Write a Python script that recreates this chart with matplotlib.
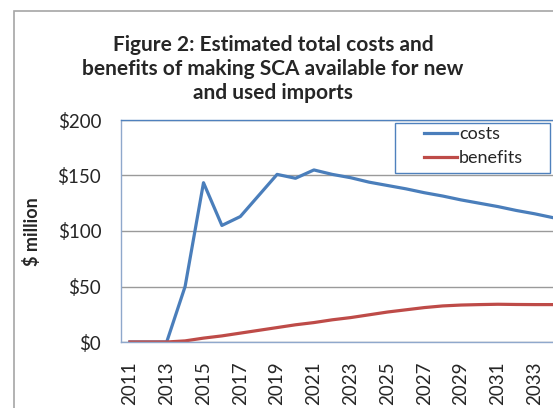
import matplotlib
matplotlib.use("Agg")
import matplotlib.pyplot as plt
from matplotlib.patches import Rectangle

# data ($ million)
years = list(range(2011, 2035))
costs = [0, 0, 0, 50, 143.5, 105, 113, 132, 151, 147.5, 155, 151, 148, 144,
         141, 138, 134.5, 131.5, 128, 125, 122, 118.5, 115.5, 112]
benefits = [0, 0, 0, 1, 3.5, 5.5, 8, 10.5, 13, 15.5, 17.5, 20, 22, 24.5,
            27, 29, 31, 32.5, 33.3, 33.7, 34, 33.8, 33.7, 33.7]
yticks = [0, 50, 100, 150, 200]
ytick_labels = ["$0", "$50", "$100", "$150", "$200"]

plt.rcParams["font.family"] = ["Lato", "DejaVu Sans"]

W, H = 553, 408
fig = plt.figure(figsize=(W / 100, H / 100), dpi=100)

# outer chart border (cut off at right and bottom like the original)
fig.patches.append(Rectangle((14 / W, -0.1), 1.2, (H - 11) / H + 0.1,
                             transform=fig.transFigure, fill=False,
                             edgecolor="#a6a6a6", linewidth=1.2))

# plot area in pixels: left 120.7, top 120, bottom 342, 18.4 px per year
left, top, bottom, step = 120.7, 120, 342, 18.4
ax = fig.add_axes([left / W, (H - bottom) / H, step * len(years) / W,
                   (bottom - top) / H])

x = list(range(len(years)))
ax.plot(x, costs, color="#4a7ebb", lw=2.3, label="costs", solid_joinstyle="round")
ax.plot(x, benefits, color="#be4b48", lw=2.3, label="benefits", solid_joinstyle="round")

ax.set_xlim(-0.5, len(years) - 0.5)
ax.set_ylim(0, 200)
ax.set_yticks(yticks)
ax.set_yticklabels(ytick_labels, fontsize=13.5, color="#262626")
ax.set_xticks(x[::2])
ax.set_xticklabels([str(y) for y in years[::2]], rotation=90, fontsize=13.5,
                   color="#262626", va="top")
ax.tick_params(length=0)
ax.tick_params(axis="x", pad=14)
ax.tick_params(axis="y", pad=14)
ax.yaxis.grid(True, color="#9a9a9a", lw=1)
ax.set_axisbelow(True)

ax.spines["top"].set_color("#4f81bd")
ax.spines["left"].set_color("#8fa8cc")
ax.spines["bottom"].set_color("#8fa8cc")
ax.spines["right"].set_visible(False)
for s in ax.spines.values():
    s.set_linewidth(1)

fig.text(32 / W, 1 - 232 / H, "$ million", rotation=90, ha="center",
         va="center", fontsize=13, fontweight="bold", color="#262626")

fig.text(273 / W, 1 - 69 / H,
         "Figure 2: Estimated total costs and\nbenefits of making SCA available for new\nand used imports",
         ha="center", va="center", fontsize=15, fontweight="bold",
         color="#262626", linespacing=1.25)

# legend entries without frame, frame drawn separately as in the original
leg = fig.legend(loc="upper left", bbox_to_anchor=(424 / W, 1 - 126 / H),
                 fontsize=13, frameon=False, handlelength=1.8,
                 handletextpad=0.15, borderpad=0, labelspacing=0.45,
                 borderaxespad=0)
for t in leg.get_texts():
    t.set_color("#262626")
fig.patches.append(Rectangle((395 / W, 1 - 173 / H), 155 / W, 50 / H,
                             transform=fig.transFigure, fill=False,
                             edgecolor="#4f81bd", linewidth=1))

fig.savefig("out.png", dpi=100)
